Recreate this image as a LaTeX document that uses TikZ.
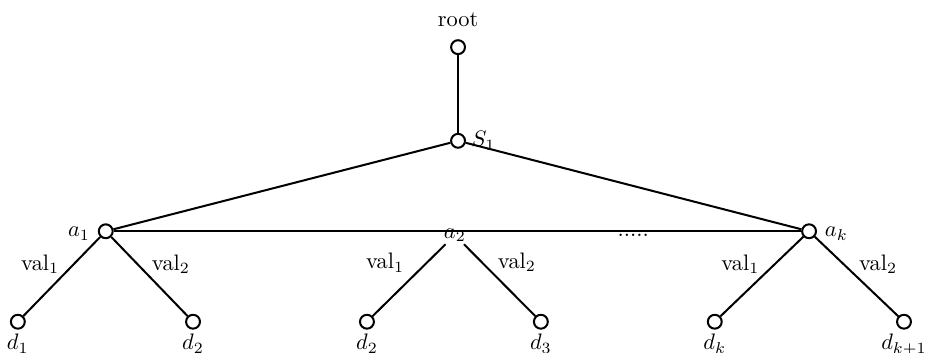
\documentclass[tikz,border=0pt]{standalone}
\usepackage{amsmath}
\usepackage{tikz}
\usetikzlibrary{positioning}

\tikzset{
  vtx/.style={circle, draw, line width=0.9pt, minimum size=6.2pt, inner sep=0pt},
  edg/.style={line width=0.9pt},
  lbl/.style={inner sep=0pt}
}

\begin{document}
\begin{tikzpicture}
      \useasboundingbox (0,0) rectangle (14.52,-5.53);
      % top
      \draw (7.19,-0.74) node[vtx](root){};
      \draw (root.north) node[above=2pt] {root};
      \draw (7.19,-2.21) node[vtx](s1){};
      \draw (s1.east) node[right=-1pt] {$S_1$};
      % attributes
      \draw (1.66,-3.63) node[vtx](a1){};
      \draw (a1.west) node[left, yshift=-1pt] {$a_1$};
      \draw (7.14,-3.69) node[inner sep=1pt](a2){$a_2$};
      \draw (12.70,-3.63) node[vtx](ak){};
      \draw (ak.east) node[right, yshift=-1pt] {$a_k$};
      \draw (9.94,-3.70) node(dots){.....};
      % leaves
      \draw (0.28,-5.05) node[vtx](d1){};
      \draw (d1.south) node[below=-1.5pt] {$d_1$};
      \draw (3.03,-5.05) node[vtx](d2){};
      \draw (d2.south) node[below=-1.5pt] {$d_2$};
      \draw (5.76,-5.05) node[vtx](d2b){};
      \draw (d2b.south) node[below=-1.5pt] {$d_2$};
      \draw (8.49,-5.05) node[vtx](d3){};
      \draw (d3.south) node[below=-1.5pt] {$d_3$};
      \draw (11.22,-5.05) node[vtx](dk){};
      \draw (dk.south) node[below=-1.5pt] {$d_k$};
      \draw (14.19,-5.05) node[vtx](dk1){};
      \draw (dk1.south) node[below=-1.5pt] {$d_{k+1}$};
      % edges
      \draw[edg] (root) -- (s1);
      \draw[edg] (s1) -- (a1);
      \draw[edg] (s1) -- (ak);
      \draw[edg] (a1) -- (ak);
      \draw[edg] (a1) -- node[lbl, above left=1pt] {val$_1$} (d1);
      \draw[edg] (a1) -- node[lbl, above right=1pt] {val$_2$} (d2);
      \draw[edg] (a2) -- node[lbl, pos=0.4, above left=0pt and 5pt] {val$_1$} (d2b);
      \draw[edg] (a2) -- node[lbl, pos=0.4, above right=0pt and 2pt] {val$_2$} (d3);
      \draw[edg] (ak) -- node[lbl, above left=1pt] {val$_1$} (dk);
      \draw[edg] (ak) -- node[lbl, above right=1pt] {val$_2$} (dk1);
\end{tikzpicture}
\end{document}
